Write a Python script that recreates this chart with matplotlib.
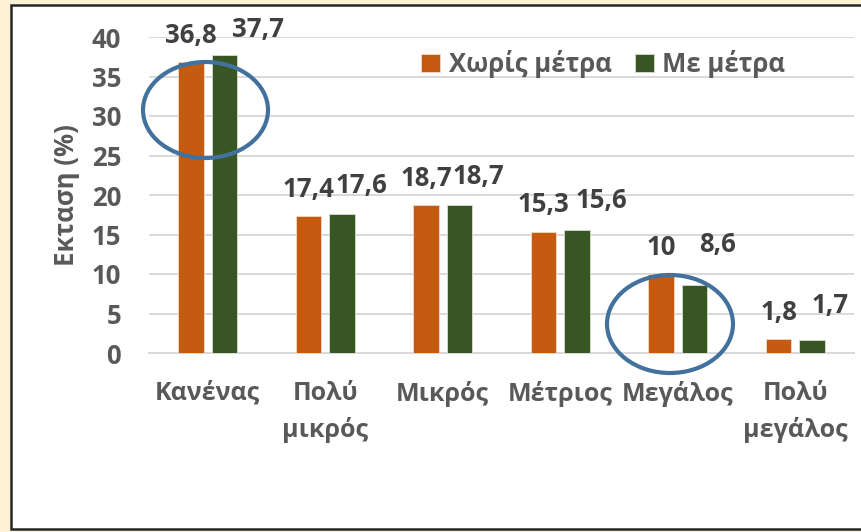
import numpy as np
import matplotlib
matplotlib.use('Agg')
import matplotlib.pyplot as plt
from matplotlib.patches import Ellipse, Rectangle

plt.rcParams['font.family'] = ['Open Sans', 'DejaVu Sans']
plt.rcParams['font.weight'] = 'bold'

categories = ['Κανένας', 'Πολύ\nμικρός', 'Μικρός', 'Μέτριος', 'Μεγάλος', 'Πολύ\nμεγάλος']
no_measures = [36.8, 17.4, 18.7, 15.3, 10.0, 1.8]
with_measures = [37.7, 17.6, 18.7, 15.6, 8.6, 1.7]
no_labels = ['36,8', '17,4', '18,7', '15,3', '10', '1,8']
with_labels = ['37,7', '17,6', '18,7', '15,6', '8,6', '1,7']
series_names = ['Χωρίς μέτρα', 'Με μέτρα']
yticks = [0, 5, 10, 15, 20, 25, 30, 35, 40]

# label nudges in pixels (dx, dy above bar top), excel shifted some of them
no_nudge = [(0, 19), (0, 19), (0, 19), (0, 20), (0, 19), (0, 19)]
with_nudge = [(34, 18), (19, 21), (19, 21), (24, 22), (23, 33), (18, 27)]

ORANGE = '#C55A11'
GREEN = '#375623'
GRAY = '#595959'
DARK = '#404040'
RING = '#41719C'

W, H = 861, 532
fig = plt.figure(figsize=(W / 100, H / 100), dpi=100)
fig.patch.set_facecolor('#FDF1D6')

# white chart panel with dark border
panel = Rectangle((11 / W, 3 / H), 1.0, 1 - 8 / H, transform=fig.transFigure,
                  facecolor='white', edgecolor='#262626', linewidth=1.8, zorder=-10)
fig.patches.append(panel)

ax = fig.add_axes([149 / W, 1 - 353 / H, 705 / W, 316 / H])
ax.set_facecolor('none')

x = np.arange(len(categories))
off = 0.1425
bw = 0.221
b1 = ax.bar(x - off, no_measures, bw, color=ORANGE, edgecolor='#F4D9C6', linewidth=0.6,
            label=series_names[0], zorder=3)
b2 = ax.bar(x + off, with_measures, bw, color=GREEN, edgecolor='#D7DED1', linewidth=0.6,
            label=series_names[1], zorder=3)

for xi, v, lab, (dx, dy) in zip(x - off, no_measures, no_labels, no_nudge):
    ax.annotate(lab, (xi, v), xytext=(dx * 0.72, dy * 0.72), textcoords='offset points',
                ha='center', va='baseline', fontsize=18.5, color=DARK, fontweight='bold')
for xi, v, lab, (dx, dy) in zip(x + off, with_measures, with_labels, with_nudge):
    ax.annotate(lab, (xi, v), xytext=(dx * 0.72, dy * 0.72), textcoords='offset points',
                ha='center', va='baseline', fontsize=18.5, color=DARK, fontweight='bold')

ax.set_xlim(-0.5, len(categories) - 0.5)
ax.set_ylim(0, 40)
ax.set_yticks(yticks)
ax.set_yticklabels([str(t) for t in yticks])
ax.set_xticks(x)
ax.set_xticklabels(categories)
for t in ax.get_xticklabels():
    t.set_linespacing(1.55)

ax.tick_params(axis='y', length=0, pad=20, labelsize=18.5, labelcolor=GRAY)
ax.tick_params(axis='x', length=0, pad=20, labelsize=18, labelcolor=GRAY)
ax.yaxis.grid(True, color='#D9D9D9', linewidth=1.4, zorder=0)
ax.set_axisbelow(True)
for s in ['top', 'right', 'left']:
    ax.spines[s].set_visible(False)
ax.spines['bottom'].set_color('#D9D9D9')
ax.spines['bottom'].set_linewidth(1.4)

fig.text(67 / W, 1 - 195 / H, 'Εκταση (%)', rotation=90, ha='center', va='center',
         fontsize=18.5, color=GRAY, fontweight='bold')

leg = fig.legend(handles=[b1, b2], loc='center left', bbox_to_anchor=(421 / W, 1 - 64 / H),
                 ncol=2, frameon=False, fontsize=18.5, handlelength=0.75, handleheight=0.75,
                 handletextpad=0.33, columnspacing=0.9, borderpad=0, borderaxespad=0)
for t in leg.get_texts():
    t.set_color(GRAY)

# highlight rings
for cx, cy, ew, eh in [(205.5, 110, 125, 96), (670, 324, 126, 98)]:
    fig.patches.append(Ellipse((cx / W, 1 - cy / H), ew / W, eh / H, transform=fig.transFigure,
                               facecolor='none', edgecolor=RING, linewidth=3, zorder=5))

fig.savefig('out.png', dpi=100, facecolor=fig.get_facecolor())
